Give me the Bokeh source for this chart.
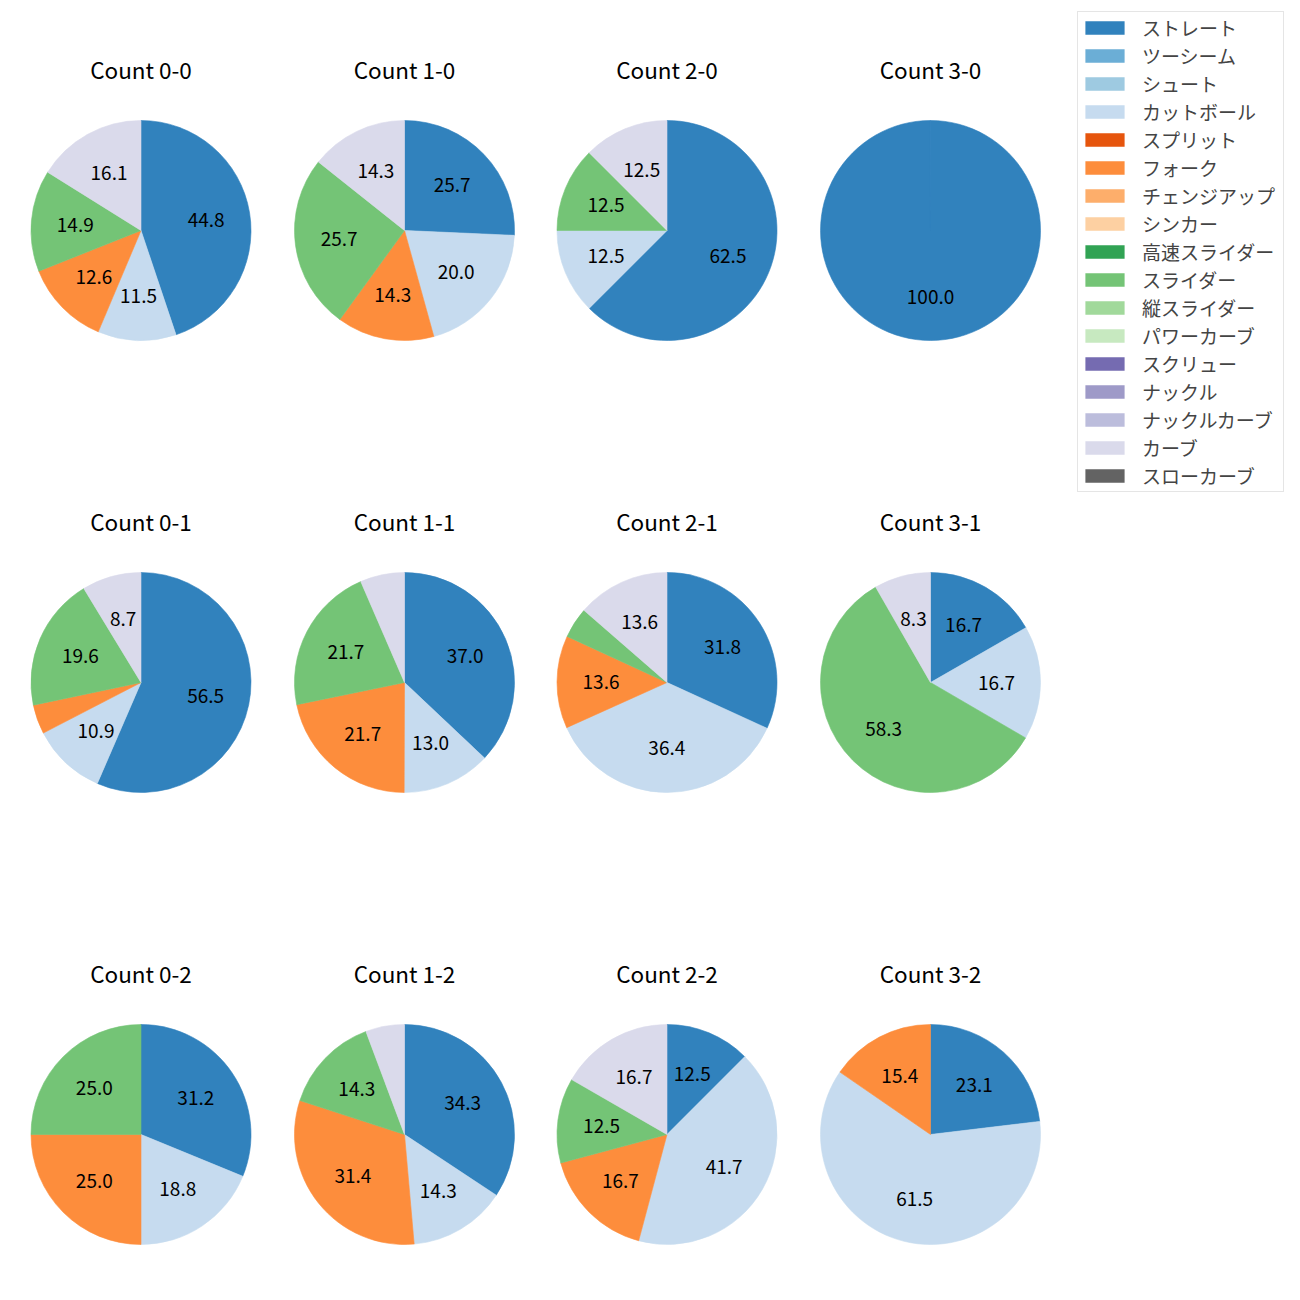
import math
from bokeh.plotting import figure
from bokeh.models import ColumnDataSource, Range1d, Legend, LegendItem
from bokeh.core.properties import value
from bokeh.embed import file_html
from bokeh.resources import INLINE

FONT = "Noto Sans CJK JP"

categories = ["ストレート", "ツーシーム", "シュート", "カットボール", "スプリット", "フォーク",
              "チェンジアップ", "シンカー", "高速スライダー", "スライダー", "縦スライダー",
              "パワーカーブ", "スクリュー", "ナックル", "ナックルカーブ", "カーブ", "スローカーブ"]
colors = ["#3182bd", "#6baed6", "#9ecae1", "#c6dbef", "#e6550d", "#fd8d3c", "#fdae6b",
          "#fdd0a2", "#31a354", "#74c476", "#a1d99b", "#c7e9c0", "#756bb1", "#9e9ac8",
          "#bcbddc", "#dadaeb", "#636363"]

counts = ["0-0", "1-0", "2-0", "3-0", "0-1", "1-1", "2-1", "3-1", "0-2", "1-2", "2-2", "3-2"]

# percentages per count (same order as counts)
straight = [44.8, 25.7, 62.5, 100.0, 56.5, 37.0, 31.8, 16.7, 31.2, 34.3, 12.5, 23.1]
cutter   = [11.5, 20.0, 12.5, 0.0, 10.9, 13.0, 36.4, 16.7, 18.8, 14.3, 41.7, 61.5]
fork     = [12.6, 14.3, 0.0, 0.0, 4.3, 21.7, 13.6, 0.0, 25.0, 31.4, 16.7, 15.4]
slider   = [14.9, 25.7, 12.5, 0.0, 19.6, 21.7, 4.5, 58.3, 25.0, 14.3, 12.5, 0.0]
curve    = [16.1, 14.3, 12.5, 0.0, 8.7, 6.5, 13.6, 8.3, 0.0, 5.7, 16.7, 0.0]

series = {0: straight, 3: cutter, 5: fork, 9: slider, 15: curve}

W = H = 1300
col_x = [140.5, 404, 666.5, 930]
row_y = [230, 682, 1134]
R = 110
title_dy = 162

p = figure(width=W, height=H, output_backend="svg", toolbar_location=None,
           x_range=Range1d(0, W), y_range=Range1d(0, H), min_border=0,
           outline_line_color=None)
p.axis.visible = False
p.grid.visible = False

wx, wy, ws, we, wc = [], [], [], [], []
tx, ty, tt = [], [], []
hx, hy, ht = [], [], []
for k, cnt in enumerate(counts):
    cx = col_x[k % 4]
    cy = H - row_y[k // 4]
    vals = [(i, series[i][k]) for i in sorted(series) if series[i][k] > 0]
    total = sum(v for _, v in vals)
    cum = 0.0
    for i, v in vals:
        a0 = math.pi / 2 - 2 * math.pi * cum / total
        cum += v
        a1 = math.pi / 2 - 2 * math.pi * cum / total
        if a0 - a1 > 2 * math.pi - 1e-3:
            a1 = a0 - (2 * math.pi - 1e-3)
        wx.append(cx); wy.append(cy); ws.append(a1); we.append(a0); wc.append(colors[i])
        if v / total * 100 >= 7:
            mid = (a0 + a1) / 2
            tx.append(cx + 0.6 * R * math.cos(mid))
            ty.append(cy + 0.6 * R * math.sin(mid))
            tt.append(f"{v / total * 100:.1f}")
    hx.append(cx); hy.append(H - row_y[k // 4] + title_dy); ht.append(f"Count {cnt}")

p.wedge(x="x", y="y", radius=R, start_angle="s", end_angle="e", fill_color="c",
        line_color="c", line_width=0.6,
        source=ColumnDataSource(dict(x=wx, y=wy, s=ws, e=we, c=wc)))
p.text(x="x", y="y", text="t", source=ColumnDataSource(dict(x=tx, y=ty, t=tt)),
       text_align="center", text_baseline="middle", text_font=value(FONT),
       text_font_size="19px", text_color="black")
p.text(x="x", y="y", text="t", source=ColumnDataSource(dict(x=hx, y=hy, t=ht)),
       text_align="center", text_baseline="middle", text_font=value(FONT),
       text_font_size="22.5px", text_color="black")

nan = float("nan")
items = []
for name, col in zip(categories, colors):
    r = p.quad(left=[nan], right=[nan], top=[nan], bottom=[nan], fill_color=col, line_color=None)
    items.append(LegendItem(label=name, renderers=[r]))

legend = Legend(items=items, location=(1077, 808), glyph_width=49, glyph_height=17,
                label_height=14, label_width=139, spacing=1, padding=2, margin=0,
                label_standoff=13,
                label_text_font=FONT, label_text_font_size="19px",
                border_line_color="#cccccc", border_line_width=1,
                background_fill_alpha=1.0)
p.add_layout(legend)

open("out.html", "w").write(file_html(p, INLINE))
